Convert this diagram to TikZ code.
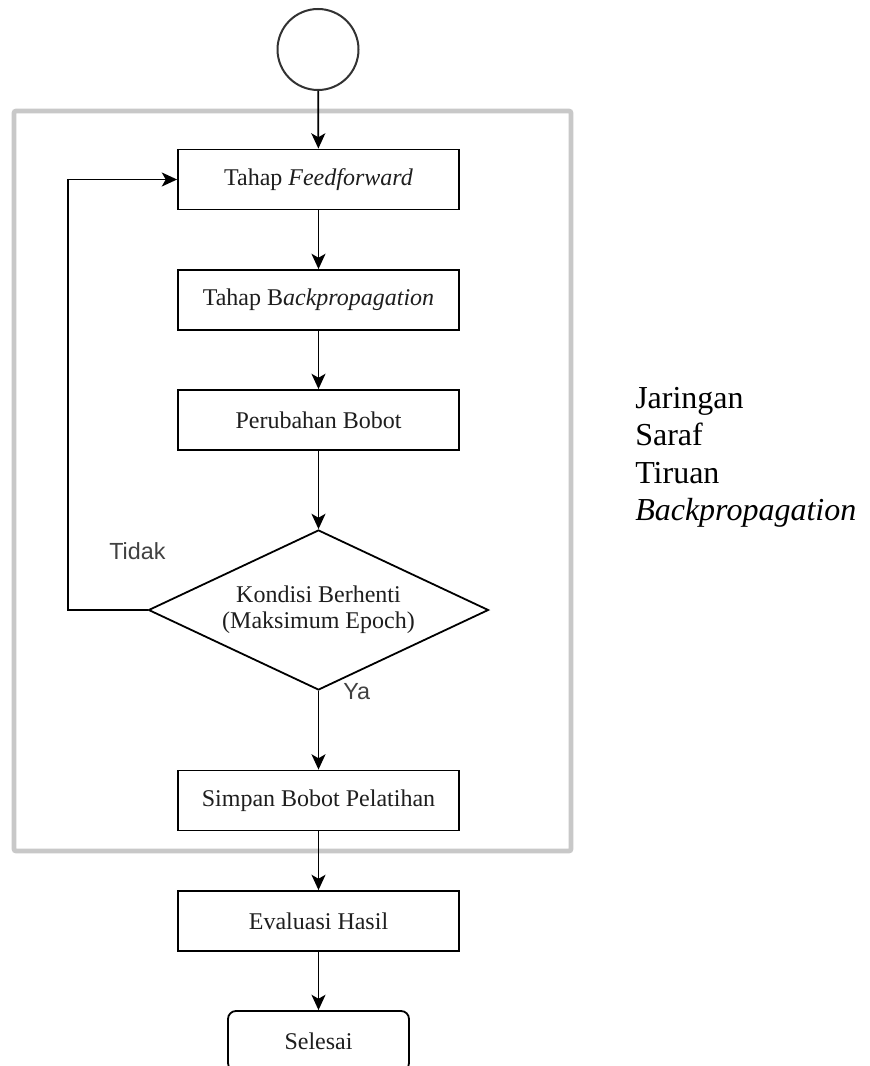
\documentclass[tikz,border=0pt]{standalone}
\usepackage{fontspec}
\setmainfont{Liberation Serif}
\newfontfamily\sansf{Liberation Sans}
\usetikzlibrary{shapes.geometric,arrows.meta}
\definecolor{framegray}{RGB}{200,200,200}
\definecolor{boxtext}{RGB}{30,30,30}
\definecolor{labgray}{RGB}{65,65,65}
\definecolor{circcol}{RGB}{50,50,50}
\begin{document}
\begin{tikzpicture}[x=0.75pt,y=-0.75pt,
  stepbox/.style={draw=black,line width=1.35pt,minimum width=210.75pt,minimum height=45pt,inner sep=0pt,font=\fontsize{18}{21}\selectfont,text=boxtext},
  endbox/.style={stepbox,minimum width=135.75pt,rounded corners=6pt},
  decision/.style={diamond,aspect=2.125,draw=black,line width=1.35pt,minimum width=255pt,minimum height=120pt,inner sep=0pt,align=center,font=\fontsize{18}{19.5}\selectfont,text=boxtext},
  startc/.style={circle,draw=circcol,line width=1.5pt,minimum size=60.75pt,inner sep=0pt},
  arr/.style={draw=black,line width=1.35pt,-{Stealth[length=11.5pt,width=10.5pt,inset=3pt]}},
  yn/.style={font=\sansf\fontsize{17.5}{20}\selectfont,text=labgray,inner sep=0pt,anchor=base west},
  side/.style={font=\fontsize{24}{28}\selectfont,text=black,inner sep=0pt,anchor=base west},
  frame/.style={draw=framegray,line width=3.5pt,rounded corners=1.5pt}]
\clip (0,0) rectangle (869,1066);
\fill[white] (0,0) rectangle (869,1066);
% outer gray frame
\draw[frame] (14,111) rectangle (571,851);
% nodes
\node[startc] (start) at (318,49.5) {};
\node[stepbox] (ff) at (318.5,179.5) {Tahap \textit{Feedforward}};
\node[stepbox] (bp) at (318.5,300) {Tahap B\textit{ackpropagation}};
\node[stepbox] (pb) at (318.5,420) {Perubahan Bobot};
\node[decision] (dec) at (318.5,610) {Kondisi Berhenti\\(Maksimum Epoch)};
\node[stepbox] (sp) at (318.5,800.5) {Simpan Bobot Pelatihan};
\node[stepbox] (ev) at (318.5,921) {Evaluasi Hasil};
\node[endbox] (end) at (318.5,1041) {Selesai};
% labels
\node[yn] (tidak) at (109,559) {Tidak};
\node[yn] (ya) at (343,699) {Ya};
\node[side] (s1) at (635,408) {Jaringan};
\node[side] (s2) at (635,445.5) {Saraf};
\node[side] (s3) at (635,483) {Tiruan};
\node[side] (s4) at (635,520.5) {\textit{Backpropagation}};
% connectors
\draw[arr] (start) -- (ff);
\draw[arr] (ff) -- (bp);
\draw[arr] (bp) -- (pb);
\draw[arr] (pb) -- (dec);
\draw[arr] (dec) -- (sp);
\draw[arr] (sp) -- (ev);
\draw[arr] (ev) -- (end);
\coordinate (loop) at (68,610);
\draw[arr] (dec.west) -- (loop) |- (ff.west);
\end{tikzpicture}
\end{document}
